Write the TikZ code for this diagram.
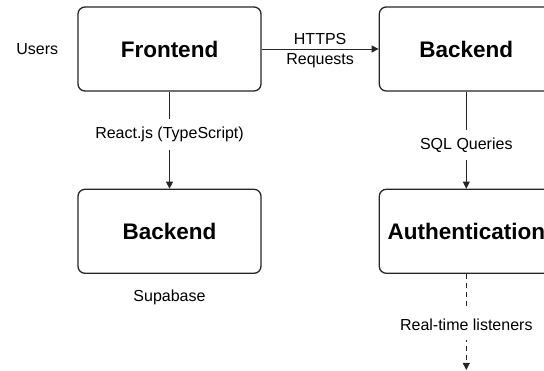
\documentclass[tikz,border=0pt]{standalone}
\usepackage{fontspec}
\setmainfont{Liberation Sans}
\usetikzlibrary{positioning,arrows.meta}

\begin{document}
\begin{tikzpicture}[x=1pt,y=1pt]
	\tikzstyle{every node}+=[inner sep=0pt]
	\tikzset{
		box/.style={draw=black!85, line width=1.3pt, rounded corners=7pt, minimum width=183pt, minimum height=84pt, font=\fontsize{22.5}{27}\selectfont\bfseries},
		lbl/.style={font=\fontsize{16}{19}\selectfont, fill=white, inner xsep=4pt, inner ysep=8pt},
		plain/.style={font=\fontsize{16}{19}\selectfont},
		conn/.style={draw=black!85, line width=0.9pt, -{Triangle[length=7pt,width=7pt]}}
	}
	\useasboundingbox (0,0) rectangle (544,-371);
	\clip (0,0) rectangle (544,-371);
	% boxes
	\node [box] (front) at (169.5,-49) {Frontend};
	\node [box, minimum width=174pt, right=117pt of front] (back) {Backend};
	\node [box, below=97pt of front] (db) {Backend};
	\node [box, minimum width=174pt, below=97pt of back] (auth) {Authentication};
	% free labels
	\node [plain, left=19pt of front] (users) {Users};
	\node [plain, below=16pt of db] (supa) {Supabase};
	\coordinate [below=96pt of auth] (rt);
	% connectors
	\draw [conn] (front) -- node [plain, above=4pt] (https) {HTTPS} node [plain, below=4pt] (req) {Requests} (back);
	\draw [conn] (front) -- node [lbl, pos=0.44] (react) {React.js (TypeScript)} (db);
	\draw [conn] (back) -- node [lbl, pos=0.55] (sql) {SQL Queries} (auth);
	\draw [conn, dash pattern=on 5pt off 4pt] (auth) -- node [lbl, pos=0.53, inner ysep=9pt] (listen) {Real-time listeners} (rt);
\end{tikzpicture}
\end{document}
